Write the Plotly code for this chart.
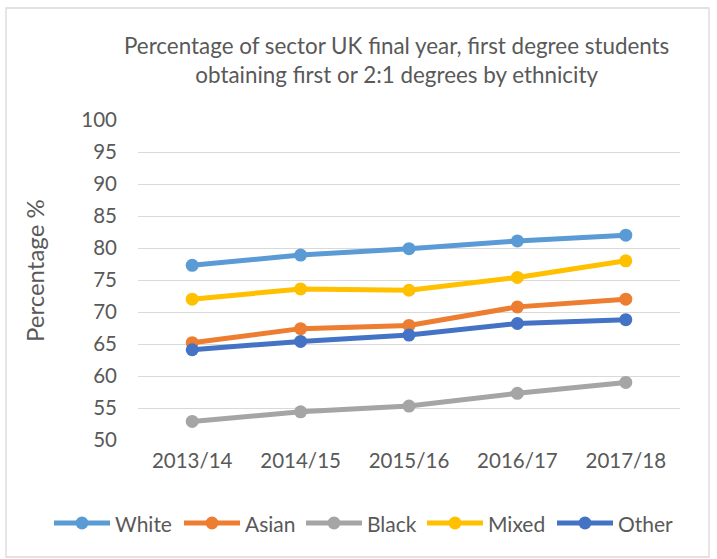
import plotly.graph_objects as go

years = ["2013/14", "2014/15", "2015/16", "2016/17", "2017/18"]
white = [77.3, 78.9, 79.9, 81.1, 82.0]
asian = [65.2, 67.4, 67.9, 70.8, 72.0]
black = [52.9, 54.4, 55.3, 57.3, 59.0]
mixed = [72.0, 73.6, 73.4, 75.4, 78.0]
other = [64.1, 65.4, 66.4, 68.2, 68.8]
y_ticks = [50, 55, 60, 65, 70, 75, 80, 85, 90, 95, 100]

series = [
    ("White", white, "#5B9BD5"),
    ("Asian", asian, "#ED7D31"),
    ("Black", black, "#A5A5A5"),
    ("Mixed", mixed, "#FFC000"),
    ("Other", other, "#4472C4"),
]

FONT = "Lato"
GREY = "#595959"

L, R, T, B = 138, 680, 120, 440
W, H = 717, 559
pw, ph = R - L, B - T

def px_x(p):
    return (p - L) / pw

def px_y(p):
    return (B - p) / ph

fig = go.Figure()
for name, vals, col in series:
    fig.add_trace(go.Scatter(
        x=years, y=vals, name=name, mode="lines+markers",
        line=dict(color=col, width=5),
        marker=dict(color=col, size=13),
        showlegend=False,
    ))

# manual legend (long line symbols like the original)
leg_sym_x0 = [54, 184, 306, 427, 557]
leg_y = 523
sym_len = 56
shapes = [dict(type="rect", xref="paper", yref="paper",
               x0=px_x(6), x1=px_x(709), y0=px_y(557), y1=px_y(8),
               line=dict(color="#D9D9D9", width=1.3), layer="below")]
annotations = []
r = 6.5
for (name, vals, col), x0 in zip(series, leg_sym_x0):
    shapes.append(dict(type="line", xref="paper", yref="paper",
                       x0=px_x(x0), x1=px_x(x0 + sym_len),
                       y0=px_y(leg_y), y1=px_y(leg_y),
                       line=dict(color=col, width=5)))
    cx = x0 + sym_len / 2
    shapes.append(dict(type="circle", xref="paper", yref="paper",
                       x0=px_x(cx - r), x1=px_x(cx + r),
                       y0=px_y(leg_y + r), y1=px_y(leg_y - r),
                       fillcolor=col, line=dict(color=col, width=0)))
    annotations.append(dict(text=name, xref="paper", yref="paper",
                            x=px_x(x0 + sym_len + 3), y=px_y(leg_y),
                            xanchor="left", yanchor="middle", showarrow=False,
                            font=dict(size=21, color=GREY, family=FONT)))

annotations.append(dict(
    text="Percentage of sector UK final year, first degree students<br>obtaining first or 2:1 degrees by ethnicity",
    xref="paper", yref="paper", x=px_x(396), y=px_y(60),
    xanchor="center", yanchor="middle", showarrow=False,
    font=dict(size=22.4, color=GREY, family=FONT), align="center"))
annotations.append(dict(
    text="Percentage %", textangle=-90,
    xref="paper", yref="paper", x=px_x(34), y=px_y(271),
    xanchor="center", yanchor="middle", showarrow=False,
    font=dict(size=24, color=GREY, family=FONT)))

fig.update_layout(
    width=W, height=H,
    margin=dict(l=L, r=W - R, t=T, b=H - B, pad=0, autoexpand=False),
    paper_bgcolor="white", plot_bgcolor="white",
    font=dict(family=FONT, color=GREY, size=20),
    showlegend=False,
    xaxis=dict(showgrid=False, showline=False, zeroline=False,
               ticks="", tickfont=dict(size=20.5, color=GREY),
               range=[-0.5, 4.5], ticklabelstandoff=6),
    yaxis=dict(range=[50, 100], tickvals=y_ticks, showgrid=True,
               gridcolor="#D9D9D9", gridwidth=1.3, zeroline=False,
               showline=False, ticks="", ticklabelstandoff=20,
               tickfont=dict(size=20.5, color=GREY)),
    annotations=annotations,
    shapes=shapes,
)

fig.write_html("out.html", config={"displayModeBar": False},
               post_script="document.body.style.margin='0';")
